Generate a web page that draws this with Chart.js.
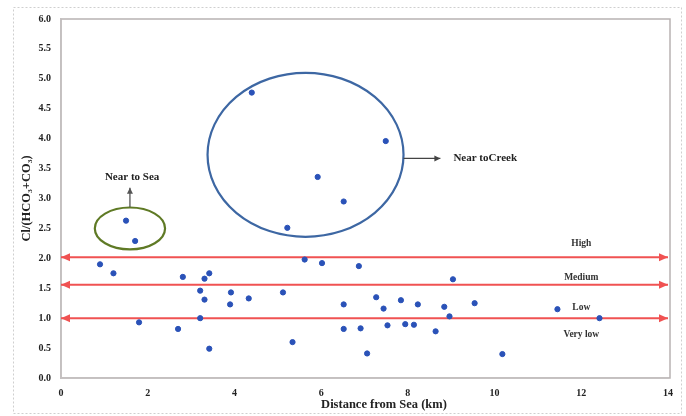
<!DOCTYPE html>
<html>
<head>
<meta charset="utf-8">
<script src="https://cdn.jsdelivr.net/npm/chart.js@4.4.0/dist/chart.umd.min.js"></script>
<style>
  html, body { margin: 0; padding: 0; background: #fff; }
  #wrap { width: 686px; height: 416px; position: relative; }
</style>
</head>
<body>
<div id="wrap"><canvas id="chart" width="686" height="416"></canvas></div>
<script>
// Sample points: distance from sea (km) vs Cl/(HCO3+CO3)
var distance = [1.50, 1.71, 0.90, 1.21, 1.80, 2.70, 2.81, 3.31, 3.42, 3.21,
                3.31, 3.21, 3.42, 3.92, 3.90, 4.33, 5.12, 5.34, 5.62, 6.02,
                6.87, 6.52, 6.52, 6.91, 7.06, 7.27, 7.44, 7.53, 7.84, 7.94,
                8.14, 8.23, 8.64, 8.84, 8.96, 9.04, 9.54, 10.18, 11.45, 12.42,
                4.40, 7.49, 5.92, 6.52, 5.22];
var ratio = [2.63, 2.29, 1.90, 1.75, 0.93, 0.82, 1.69, 1.66, 1.75, 1.46,
             1.31, 1.00, 0.49, 1.43, 1.23, 1.33, 1.43, 0.60, 1.98, 1.92,
             1.87, 1.23, 0.82, 0.83, 0.41, 1.35, 1.16, 0.88, 1.30, 0.90,
             0.89, 1.23, 0.78, 1.19, 1.03, 1.65, 1.25, 0.40, 1.15, 1.00,
             4.77, 3.96, 3.36, 2.95, 2.51];

// Class boundary lines and their labels
var levelValues = [2.02, 1.56, 1.0];
var levelLabels = ['High', 'Medium', 'Low', 'Very low'];
var levelLabelY = [2.25, 1.68, 1.18, 0.73];
var levelLabelX = 12.0;

var xTicks = [0, 2, 4, 6, 8, 10, 12, 14];
var yTicks = [0, 0.5, 1, 1.5, 2, 2.5, 3, 3.5, 4, 4.5, 5, 5.5, 6];

var serif = '"Liberation Serif", "DejaVu Serif", serif';
var pointColor = '#2a52b8';
var levelColor = '#f05252';

var points = distance.map(function(d, i) { return { x: d, y: ratio[i] }; });

var datasets = [{
  label: 'Samples',
  data: points,
  pointBackgroundColor: pointColor,
  pointBorderColor: pointColor,
  pointRadius: 2.6,
  showLine: false,
  order: 0
}];

levelValues.forEach(function(v) {
  datasets.push({
    label: 'level ' + v,
    data: [{ x: xTicks[0], y: v }, { x: xTicks[xTicks.length - 1], y: v }],
    borderColor: levelColor,
    borderWidth: 2,
    pointRadius: 0,
    showLine: true,
    order: 1
  });
});

// Draws ellipses, arrows, level labels and frames using the chart scales
var annotate = {
  id: 'annotate',
  beforeDraw: function(chart) {
    var ctx = chart.ctx;
    ctx.save();
    ctx.fillStyle = '#fff';
    ctx.fillRect(0, 0, chart.width, chart.height);
    ctx.strokeStyle = '#cfcfcf';
    ctx.lineWidth = 1;
    ctx.setLineDash([2, 2]);
    ctx.strokeRect(13.5, 7.5, 668, 406);
    ctx.setLineDash([]);
    var a = chart.chartArea;
    ctx.strokeStyle = '#b8b2b2';
    ctx.lineWidth = 1.5;
    ctx.strokeRect(a.left, a.top, a.right - a.left + 2, a.bottom - a.top);
    ctx.restore();
  },
  afterDatasetsDraw: function(chart) {
    var ctx = chart.ctx;
    var xs = chart.scales.x, ys = chart.scales.y;
    var px = function(v) { return xs.getPixelForValue(v); };
    var py = function(v) { return ys.getPixelForValue(v); };
    ctx.save();

    // arrowheads on both ends of each level line
    ctx.fillStyle = levelColor;
    levelValues.forEach(function(v) {
      var y = py(v), l = px(xTicks[0]), r = px(xTicks[xTicks.length - 1]);
      ctx.beginPath();
      ctx.moveTo(l, y); ctx.lineTo(l + 9, y - 4); ctx.lineTo(l + 9, y + 4);
      ctx.closePath(); ctx.fill();
      ctx.beginPath();
      ctx.moveTo(r, y); ctx.lineTo(r - 9, y - 4); ctx.lineTo(r - 9, y + 4);
      ctx.closePath(); ctx.fill();
    });

    // level labels
    ctx.fillStyle = '#333';
    ctx.font = 'bold 9.5px ' + serif;
    ctx.textAlign = 'center';
    ctx.textBaseline = 'middle';
    levelLabels.forEach(function(t, i) {
      ctx.fillText(t, px(levelLabelX), py(levelLabelY[i]));
    });

    function ellipse(cx, cy, rx, ry, color) {
      ctx.beginPath();
      ctx.ellipse(px(cx), py(cy), px(cx + rx) - px(cx), py(cy) - py(cy + ry), 0, 0, Math.PI * 2);
      ctx.strokeStyle = color;
      ctx.lineWidth = 2.2;
      ctx.stroke();
    }
    function arrow(x1, y1, x2, y2, color) {
      var ax = px(x1), ay = py(y1), bx = px(x2), by = py(y2);
      var ang = Math.atan2(by - ay, bx - ax);
      ctx.strokeStyle = color;
      ctx.fillStyle = color;
      ctx.lineWidth = 1.3;
      ctx.beginPath(); ctx.moveTo(ax, ay); ctx.lineTo(bx, by); ctx.stroke();
      ctx.beginPath();
      ctx.moveTo(bx, by);
      ctx.lineTo(bx - 6 * Math.cos(ang) + 3 * Math.sin(ang), by - 6 * Math.sin(ang) - 3 * Math.cos(ang));
      ctx.lineTo(bx - 6 * Math.cos(ang) - 3 * Math.sin(ang), by - 6 * Math.sin(ang) + 3 * Math.cos(ang));
      ctx.closePath(); ctx.fill();
    }

    // Near to Sea group
    ellipse(1.59, 2.5, 0.81, 0.35, '#5f7a25');
    arrow(1.59, 2.86, 1.59, 3.18, '#555');
    ctx.fillStyle = '#222';
    ctx.font = 'bold 11px ' + serif;
    ctx.textAlign = 'center';
    ctx.fillText('Near to Sea', px(1.64), py(3.35));

    // Near to Creek group
    ellipse(5.64, 3.73, 2.26, 1.37, '#3d67a3');
    arrow(7.9, 3.67, 8.75, 3.67, '#444');
    ctx.fillStyle = '#222';
    ctx.textAlign = 'left';
    ctx.fillText('Near toCreek', px(9.05), py(3.67));

    // x axis title
    ctx.font = 'bold 12.5px ' + serif;
    ctx.textAlign = 'center';
    ctx.fillText('Distance from Sea (km)', 384, 405);
    ctx.restore();
  }
};

new Chart(document.getElementById('chart'), {
  type: 'scatter',
  data: { datasets: datasets },
  plugins: [annotate],
  options: {
    responsive: false,
    animation: false,
    layout: { padding: { left: 0, right: 18, top: 19, bottom: 0 } },
    plugins: {
      legend: { display: false },
      tooltip: { enabled: false }
    },
    scales: {
      x: {
        type: 'linear',
        min: 0,
        max: 14,
        afterBuildTicks: function(scale) {
          scale.ticks = xTicks.map(function(v) { return { value: v }; });
        },
        afterFit: function(scale) { scale.height = 38; },
        grid: { display: false, drawTicks: false },
        border: { color: '#c4c0c0', width: 1.5 },
        ticks: {
          color: '#222',
          padding: 9,
          font: { family: serif, size: 10, weight: 'bold' }
        }
      },
      y: {
        type: 'linear',
        min: 0,
        max: 6,
        afterBuildTicks: function(scale) {
          scale.ticks = yTicks.map(function(v) { return { value: v }; });
        },
        afterFit: function(scale) { scale.width = 61; },
        grid: { display: false, drawTicks: false },
        border: { color: '#c4c0c0', width: 1.5 },
        ticks: {
          color: '#222',
          padding: 10,
          font: { family: serif, size: 10, weight: 'bold' },
          callback: function(v) { return Number(v).toFixed(1); }
        },
        title: {
          display: true,
          text: 'Cl/(HCO\u2083+CO\u2083)',
          color: '#222',
          padding: { top: 19, bottom: 0 },
          font: { family: serif, size: 12.5, weight: 'bold' }
        }
      }
    }
  }
});
</script>
</body>
</html>
